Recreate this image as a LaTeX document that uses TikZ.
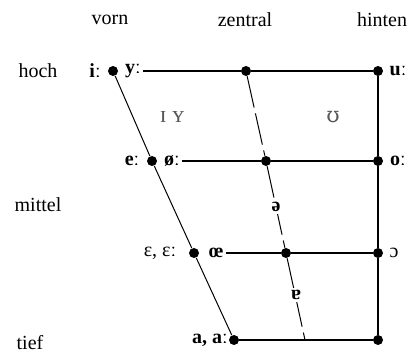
\documentclass[tikz,border=0pt]{standalone}
\usepackage{fontspec}
\setmainfont{Liberation Serif}
\newfontfamily\ipafont{DejaVu Serif}
\tikzset{
  dot/.style={circle,fill,inner sep=0pt,minimum size=5pt},
  lab/.style={inner sep=1pt,font=\bfseries},
  lax/.style={inner sep=1pt,text=black!65,scale=1.2},
  axis/.style={line width=0.9pt},
  slant/.style={line width=0.5pt},
  centre/.style={line width=0.5pt,dash pattern=on 16pt off 3pt}
}

\begin{document}
\begin{tikzpicture}[x=0.5pt,y=-0.5pt]
  \useasboundingbox (0,0) rectangle (415,356);
  % column and row headings
  \node (vorn) at (110,20) {vorn};
  \node (zentral) at (245,20) {zentral};
  \node (hinten) at (382,20) {hinten};
  \node (hoch) at (38,71) {hoch};
  \node (mittel) at (38,205) {mittel};
  \node (tief) at (30,343) {tief};
  % corner and grid points
  \node[dot] (ihi) at (113,71) {};
  \node[dot] (zhi) at (246,71) {};
  \node[dot] (uhi) at (378,71) {};
  \node[dot] (emid) at (152,161) {};
  \node[dot] (zmid) at (266,161) {};
  \node[dot] (omid) at (378,161) {};
  \node[dot] (eps) at (194,253) {};
  \node[dot] (zlo) at (286,253) {};
  \node[dot] (olo) at (378,253) {};
  \node[dot] (alo) at (234,340) {};
  \node[dot] (blo) at (378,340) {};
  \coordinate (zend) at (305,340);
  % vowels
  \node[lab] (ilong) at (95,71) {iː};
  \node[lab] (ylong) at (133,71) {yː};
  \node[lab] (ulong) at (398,71) {uː};
  \node[lax] (iy) at (172,117) {ɪ ʏ};
  \node[lax,font=\ipafont\small] (uu) at (333,117) {ʊ};
  \node[lab] (elong) at (132,161) {eː};
  \node[lab] (olong) at (172,161) {øː};
  \node[lab] (oback) at (398,161) {oː};
  \node[lab,font=\normalfont] (eopen) at (160,253) {ɛ, ɛː};
  \node[lab] (oe) at (216,253) {œ};
  \node[lab,font=\normalfont] (oopen) at (394,253) {ɔ};
  \node[lab] (along) at (210,340) {a, aː};
  % lines of the chart
  \draw[axis] (ylong.east) -- (zhi) -- (uhi) -- (omid) -- (olo) -- (blo) -- (alo);
  \draw[axis] (olong.east) -- (zmid) -- (omid);
  \draw[axis] (oe.east) -- (zlo) -- (olo);
  \draw[slant] (ihi) -- (emid) -- (eps) -- (alo);
  \draw[centre] (zhi) -- (zmid) -- (zlo) -- (zend);
  \node[lab,fill=white] (schwa) at (276,207) {ə};
  \node[lab,fill=white] (turna) at (296,295) {ɐ};
\end{tikzpicture}
\end{document}
